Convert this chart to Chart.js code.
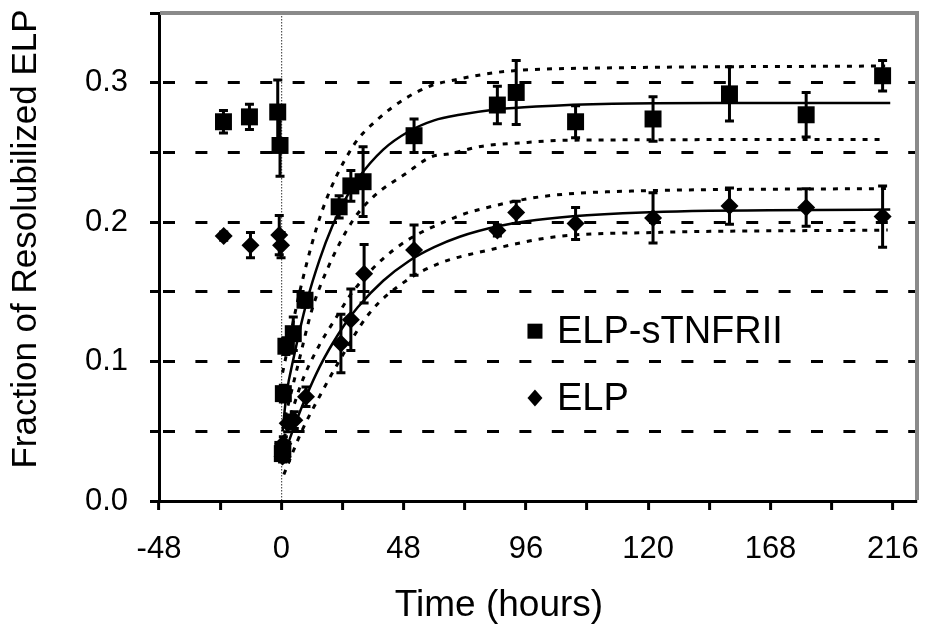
<!DOCTYPE html>
<html><head><meta charset="utf-8">
<script src="https://cdn.jsdelivr.net/npm/chart.js@4/dist/chart.umd.min.js"></script>
<style>html,body{margin:0;padding:0;background:#fff;}</style>
</head><body>
<canvas id="c" width="929" height="634"></canvas>
<script>
// ---------- data (x in axis position units; labelled ticks below) ----------
const xTickPositions = [-48,-24,0,24,48,72,96,120,144,168,192,216,240];
const xLabelPositions = [-48,0,48,96,144,192,240];
const xLabelTexts = ['-48','0','48','96','120','168','216'];
const yLabelValues = [0.0,0.1,0.2,0.3];

const tnfTime  = [-22.7,-12.5,-1.4,-0.5,0.4,0.6,0.8,1.8,4.7,9.3,22.7,27.3,32.1,52.1,84.8,92.2,115.5,145.9,175.9,206,236];
const tnfValue = [0.272,0.2755,0.279,0.255,0.034,0.037,0.077,0.111,0.120,0.144,0.211,0.226,0.229,0.262,0.284,0.293,0.272,0.274,0.292,0.277,0.305];
const tnfError = [0.008,0.009,0.023,0.022,0.004,0.004,0.006,0.006,0.012,0.005,0.008,0.011,0.025,0.012,0.0135,0.023,0.0115,0.016,0.0195,0.016,0.011];

const elpTime  = [-22.6,-12.1,-0.8,-0.1,0.5,0.8,2.5,5.1,9.7,23.4,27.3,32.5,52.1,84.8,92.2,115.5,145.9,175.9,206,236];
const elpValue = [0.190,0.1835,0.1907,0.1835,0.032,0.041,0.0557,0.058,0.0748,0.113,0.130,0.163,0.180,0.194,0.207,0.199,0.203,0.2115,0.2105,0.204];
const elpError = [0.003,0.009,0.014,0.009,0.004,0.005,0.006,0.006,0.007,0.021,0.022,0.021,0.018,0.004,0.008,0.0115,0.018,0.013,0.0135,0.022];

const tnfFitTime  = [0.5,2,5,10,15,20,25,30,40,50,60,70,85,100,130,170,239];
const tnfFitValue = [0.050,0.076,0.104,0.143,0.173,0.197,0.216,0.231,0.252,0.265,0.273,0.277,0.281,0.283,0.285,0.2855,0.2855];
const tnfUpTime   = [0.5,8,16,28,38,49,59,68,83,94,127,237];
const tnfUpValue  = [0.092,0.156,0.208,0.254,0.274,0.289,0.298,0.302,0.307,0.309,0.3106,0.312];
const tnfLoTime   = [1.5,7,12,18,28,36,49,59,66,79,95,114,236];
const tnfLoValue  = [0.060,0.101,0.137,0.166,0.201,0.218,0.235,0.247,0.249,0.2545,0.257,0.2588,0.2593];

const elpFitTime  = [0.5,5,10,15,20,25,30,40,50,60,70,85,100,120,150,239];
const elpFitValue = [0.030,0.053,0.076,0.096,0.1126,0.127,0.139,0.158,0.172,0.182,0.1895,0.197,0.2015,0.205,0.2075,0.209];
const elpUpTime   = [1,8,15,21,28,44,69,82,101,127,238];
const elpUpValue  = [0.045,0.085,0.112,0.130,0.150,0.180,0.204,0.211,0.218,0.2217,0.2241];
const elpLoTime   = [1,8,15,22,34.5,49,62,81.5,107.6,146.8,238];
const elpLoValue  = [0.019,0.050,0.075,0.098,0.1345,0.158,0.1704,0.180,0.1895,0.1926,0.1943];

const seriesNames = ['ELP-sTNFRII','ELP'];
const axisTitles = ['Time (hours)','Fraction of Resolubilized ELP'];

// ---------- helpers ----------
const pts = (xs, ys) => xs.map((x,i)=>({x, y: ys[i]}));
const FONT = "'Liberation Sans', Arial, sans-serif";

const errorBarPlugin = {
  id: 'errorBars',
  afterDatasetsDraw(chart) {
    const {ctx, scales:{x, y}} = chart;
    ctx.save();
    ctx.strokeStyle = '#000';
    ctx.lineWidth = 3;
    chart.data.datasets.forEach((ds) => {
      if (!ds.errors) return;
      ds.data.forEach((p, i) => {
        const e = ds.errors[i];
        const px = x.getPixelForValue(p.x);
        const yt = y.getPixelForValue(p.y + e);
        const yb = y.getPixelForValue(p.y - e);
        ctx.beginPath();
        ctx.moveTo(px, yt); ctx.lineTo(px, yb);
        ctx.moveTo(px - 4.5, yt); ctx.lineTo(px + 4.5, yt);
        ctx.moveTo(px - 4.5, yb); ctx.lineTo(px + 4.5, yb);
        ctx.stroke();
      });
    });
    ctx.restore();
  }
};

const decorPlugin = {
  id: 'decor',
  afterDraw(chart) {
    const {ctx, chartArea:a} = chart;
    ctx.save();
    // grey frame on top and right
    ctx.strokeStyle = '#8a8a8a';
    ctx.lineWidth = 4;
    ctx.beginPath();
    ctx.moveTo(a.left + 1, a.top);
    ctx.lineTo(a.right, a.top);
    ctx.lineTo(a.right, a.bottom - 1);
    ctx.stroke();
    // axis titles
    ctx.fillStyle = '#000';
    ctx.textAlign = 'center';
    ctx.textBaseline = 'middle';
    ctx.font = '37px ' + FONT;
    ctx.fillText(axisTitles[0], 499, 606);
    ctx.save();
    ctx.translate(26, 239);
    ctx.rotate(-Math.PI/2);
    ctx.font = '35px ' + FONT;
    ctx.fillText(axisTitles[1], 0, 0);
    ctx.restore();
    // legend
    const lx = a.left + (a.right - a.left) * 0.496;
    const ly1 = a.top + (a.bottom - a.top) * 0.652;
    const ly2 = a.top + (a.bottom - a.top) * 0.789;
    ctx.fillRect(lx - 7.5, ly1 - 7.5, 15, 15);
    ctx.beginPath();
    ctx.moveTo(lx, ly2 - 8.5); ctx.lineTo(lx + 7.5, ly2); ctx.lineTo(lx, ly2 + 8.5); ctx.lineTo(lx - 7.5, ly2); ctx.closePath();
    ctx.fill();
    ctx.textAlign = 'left';
    ctx.font = '38px ' + FONT;
    ctx.fillText(seriesNames[0], lx + 22, ly1 + 1);
    ctx.fillText(seriesNames[1], lx + 22, ly2 + 1);
    ctx.restore();
  }
};

const lineDs = (xs, ys, dashed) => ({
  type: 'line',
  data: pts(xs, ys),
  borderColor: '#000',
  borderWidth: dashed ? 3 : 2.5,
  borderDash: dashed ? [5, 7] : [],
  pointRadius: 0,
  fill: false,
  cubicInterpolationMode: 'monotone',
  order: 5
});

new Chart(document.getElementById('c'), {
  type: 'scatter',
  data: {
    datasets: [
      { label: seriesNames[0], data: pts(tnfTime, tnfValue), errors: tnfError,
        pointStyle: 'rect', pointRadius: 12, backgroundColor: '#000', borderColor: '#000', borderWidth: 0, order: 1 },
      { label: seriesNames[1], data: pts(elpTime, elpValue), errors: elpError,
        pointStyle: 'rectRot', pointRadius: 9, backgroundColor: '#000', borderColor: '#000', borderWidth: 0, order: 2 },
      lineDs(tnfFitTime, tnfFitValue, false),
      lineDs(tnfUpTime, tnfUpValue, true),
      lineDs(tnfLoTime, tnfLoValue, true),
      lineDs(elpFitTime, elpFitValue, false),
      lineDs(elpUpTime, elpUpValue, true),
      lineDs(elpLoTime, elpLoValue, true)
    ]
  },
  options: {
    responsive: false,
    animation: false,
    devicePixelRatio: 1,
    layout: { padding: { top: 13, right: 10, left: 0, bottom: 0 } },
    plugins: { legend: { display: false }, tooltip: { enabled: false } },
    scales: {
      x: {
        type: 'linear', min: -48, max: 249.5,
        afterBuildTicks: (ax) => { ax.ticks = xTickPositions.map(v => ({ value: v })); },
        afterFit: (ax) => { ax.height = 133; ax.paddingLeft = 0; ax.paddingRight = 0; },
        ticks: {
          autoSkip: false, maxRotation: 0, padding: 21,
          color: '#000', font: { family: FONT, size: 31 },
          callback: (v) => { const i = xLabelPositions.indexOf(v); return i >= 0 ? xLabelTexts[i] : ''; }
        },
        grid: {
          color: (c) => (c.tick && c.tick.value === 0) ? '#555' : 'rgba(0,0,0,0)',
          lineWidth: 1.2, tickColor: '#000', tickWidth: 3, tickLength: 9
        },
        border: { display: true, color: '#000', width: 3, dash: [1.5, 1.5] }
      },
      y: {
        type: 'linear', min: 0, max: 0.35,
        afterFit: (ax) => { ax.width = 159; ax.paddingTop = 0; ax.paddingBottom = 0; },
        ticks: {
          stepSize: 0.05, padding: 22, color: '#000', font: { family: FONT, size: 31 },
          callback: (v) => { const i = yLabelValues.findIndex(t => Math.abs(t - v) < 1e-6); return i >= 0 ? yLabelValues[i].toFixed(1) : ''; }
        },
        grid: {
          color: (c) => (c.tick && c.tick.value > 0.01 && c.tick.value < 0.34) ? '#000' : 'rgba(0,0,0,0)',
          lineWidth: 3, tickColor: '#000', tickWidth: 3, tickLength: 9
        },
        border: { display: true, color: '#000', width: 3, dash: [12, 20.4], dashOffset: 30.4 }
      }
    }
  },
  plugins: [errorBarPlugin, decorPlugin]
});
</script>
</body></html>
